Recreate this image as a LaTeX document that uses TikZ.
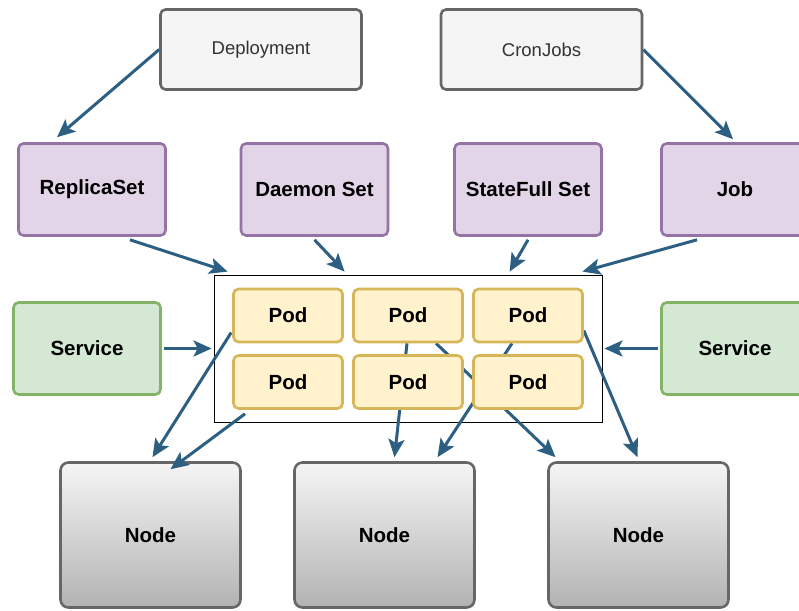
\documentclass[tikz,border=0pt]{standalone}
\usepackage{fontspec}
\setmainfont{Liberation Sans}
\usepackage{tikz}
\usetikzlibrary{arrows.meta,positioning,backgrounds,calc}

\definecolor{linkblue}{RGB}{44,95,130}
\definecolor{ctrlfill}{HTML}{E1D5E7}
\definecolor{ctrldraw}{HTML}{9673A6}
\definecolor{svcfill}{HTML}{D5E8D4}
\definecolor{svcdraw}{HTML}{82B366}
\definecolor{podfill}{HTML}{FFF2CC}
\definecolor{poddraw}{HTML}{D6B656}
\definecolor{topfill}{HTML}{F5F5F5}
\definecolor{greydraw}{HTML}{666666}

\tikzset{
  box/.style={draw, rounded corners=5pt, line width=2.6pt, align=center},
  toplevel/.style={box, fill=topfill, draw=greydraw, minimum width=201pt, minimum height=80pt,
    text=black!80, font=\fontsize{18.5}{22}\selectfont},
  ctrl/.style={box, fill=ctrlfill, draw=ctrldraw, minimum width=147pt, minimum height=92pt,
    font=\fontsize{20.5}{24}\selectfont\bfseries},
  svc/.style={box, fill=svcfill, draw=svcdraw, minimum width=147pt, minimum height=92pt,
    font=\fontsize{20.5}{24}\selectfont\bfseries},
  pod/.style={box, fill=podfill, draw=poddraw, minimum width=109pt, minimum height=53pt,
    font=\fontsize{20.5}{24}\selectfont\bfseries},
  worker/.style={box, rounded corners=8pt, top color=topfill, bottom color=black!30, draw=greydraw,
    minimum width=180pt, minimum height=145pt, font=\fontsize{20.5}{24}\selectfont\bfseries},
  link/.style={draw=linkblue, line width=3pt, -{Stealth[length=18pt, width=16pt, inset=4pt]}},
}

\begin{document}
\begin{tikzpicture}[x=1pt, y=-1pt]
\useasboundingbox (0,0) rectangle (799,610);

% top level controllers
\node[toplevel] (dep)  at (261,49.5)   {Deployment};
\node[toplevel] (cron) at (541.5,49.5) {CronJobs};

% workload controllers
\node[ctrl] (rs)  at (92,189.5)  {ReplicaSet};
\node[ctrl] (ds)  at (314.5,189.5) {Daemon Set};
\node[ctrl] (sfs) at (528,189.5) {StateFull Set};
\node[ctrl] (job) at (735,189.5) {Job};

% services
\node[svc] (svcl) at (87,348.5)  {Service};
\node[svc] (svcr) at (735,348.5) {Service};

% pods
\node[pod] (p11) at (288,315.5) {Pod};
\node[pod] (p12) at (408,315.5) {Pod};
\node[pod] (p13) at (528,315.5) {Pod};
\node[pod] (p21) at (288,382)   {Pod};
\node[pod] (p22) at (408,382)   {Pod};
\node[pod] (p23) at (528,382)   {Pod};

% worker nodes
\node[worker] (n1) at (150.5,535) {Node};
\node[worker] (n2) at (384.5,535) {Node};
\node[worker] (n3) at (638.5,535) {Node};

\begin{pgfonlayer}{background}
\node[draw, fill=white, line width=0.8pt, minimum width=388pt, minimum height=147pt, inner sep=0pt] (pods) at (408,348.5) {};

\draw[link] (dep.west) -- ($(rs.north)+(-35,-5)$);
\draw[link] (cron.east) -- ($(job.north)+(-2,-3)$);

\draw[link] ($(rs.south)+(38,3)$)  -- ($(pods.north west)+(14,-3)$);
\draw[link] ($(ds.south)+(0,3)$)   -- ($(pods.north west)+(131,-3)$);
\draw[link] ($(sfs.south)+(0,3)$)  -- ($(pods.north west)+(296,-3)$);
\draw[link] ($(job.south)+(-38,3)$) -- ($(pods.north east)+(-20,-3)$);

\draw[link] ($(svcl.east)+(2,0)$) -- ($(pods.west)+(-2,0)$);
\draw[link] ($(svcr.west)+(-2,0)$) -- ($(pods.east)+(2,0)$);

% pods scheduled onto nodes
\draw[link] ($(p11.west)+(-1,17)$)  -- ($(n1.north)+(2,-4)$);
\draw[link] ($(p12.south)+(-1,0)$)  -- ($(n2.north)+(10,-4)$);
\draw[link] ($(p13.south)+(-16,0)$) -- ($(n2.north)+(53,-4)$);
\draw[link] ($(p12.south)+(28,0)$)  -- ($(n3.north)+(-83,-4)$);
\draw[link] ($(p13.east)+(0,15)$)   -- ($(n3.north)+(-1,-4)$);
\end{pgfonlayer}
% this one ends on top of the node box
\draw[link] ($(p21.south)+(-43,4)$) -- ($(n1.north)+(20,8)$);
\end{tikzpicture}
\end{document}
